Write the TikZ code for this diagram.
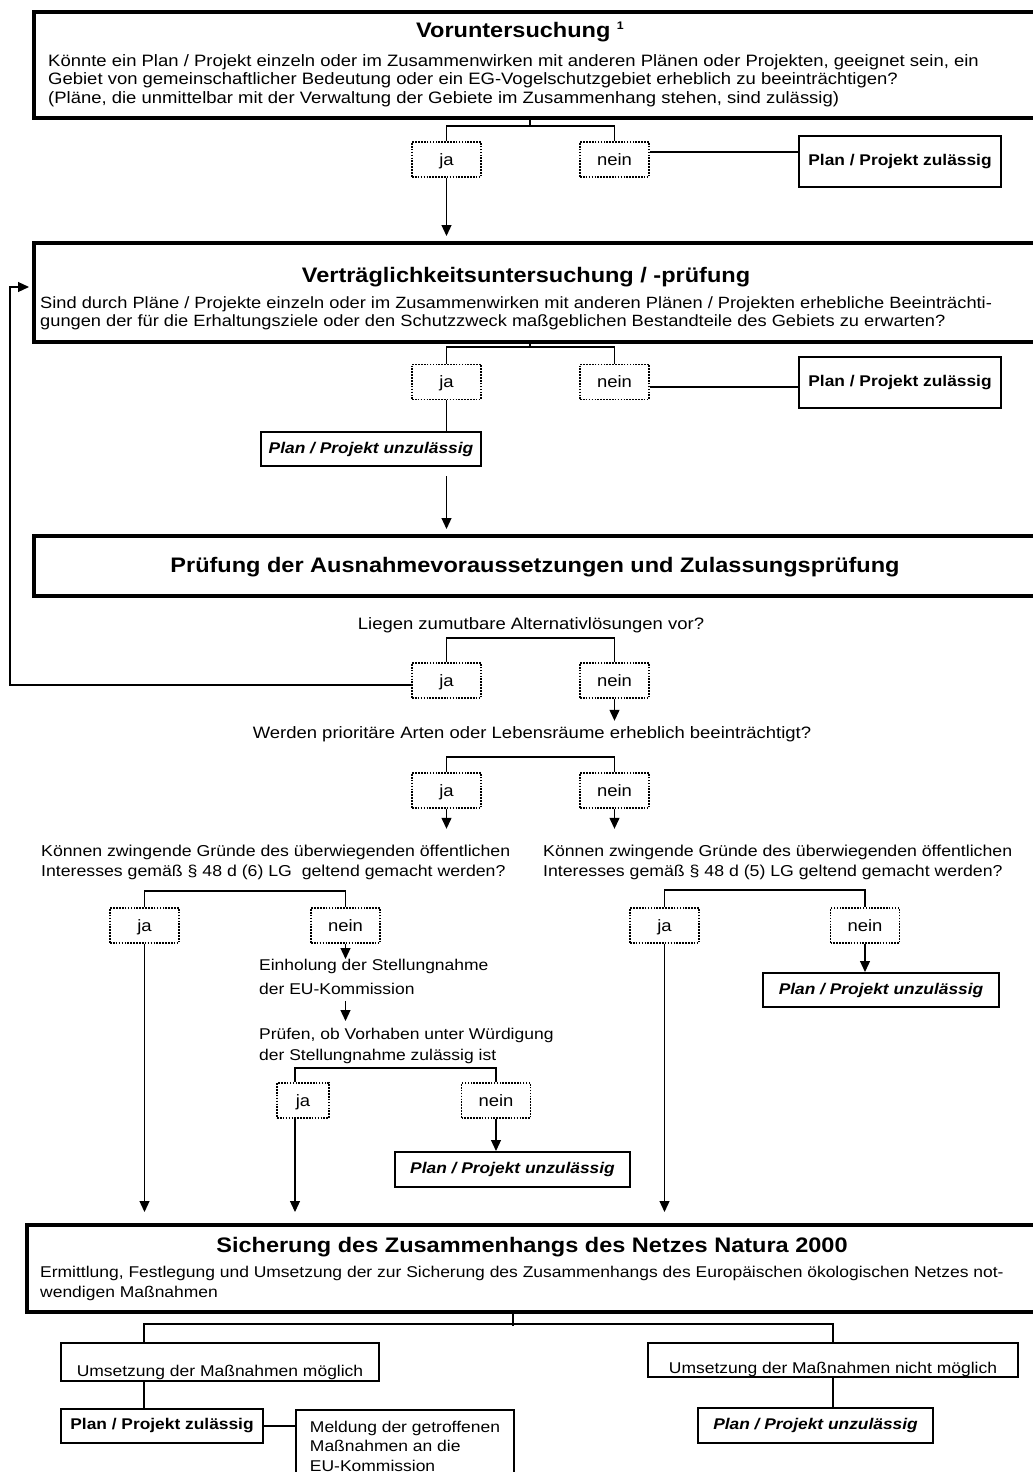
\documentclass[tikz,border=0pt]{standalone}
\usepackage{fontspec}
\setmainfont{Liberation Sans}[FakeStretch=1.12]
\usetikzlibrary{arrows.meta}
\newcommand\bodyf{\fontsize{16.5}{18.5}\selectfont}
\newcommand\smallf{\fontsize{15.6}{18.5}\selectfont}
\newcommand\ttlf{\fontsize{21}{24}\selectfont\bfseries}
\newcommand\resf{\fontsize{15.5}{18}\selectfont\bfseries}
\begin{document}
\begin{tikzpicture}[x=1pt,y=-1pt,
  conn/.style={line width=1.2pt},
  arr/.style={line width=1.2pt,-{Triangle[width=10pt,length=11pt]}},
  bigbox/.style={draw,line width=4pt,anchor=north west,inner sep=0pt,minimum width=1013pt},
  jn/.style={draw,line width=1.6pt,dash pattern=on 1.6pt off 1.3pt,minimum width=69pt,minimum height=35pt,inner sep=0pt,text height=14pt,text depth=3pt,font=\bodyf},
  res/.style={draw,line width=2pt,inner sep=0pt,font=\resf,minimum width=202pt},
  unz/.style={draw,line width=2pt,inner sep=0pt,font=\resf\itshape,minimum width=235pt,minimum height=35pt},
  body/.style={inner sep=0pt,align=left,anchor=north west,font=\bodyf},
  ques/.style={inner sep=0pt,anchor=base,font=\bodyf},
  ttl/.style={inner sep=0pt,anchor=base,font=\ttlf},
  umbox/.style={draw,line width=2pt,font=\smallf,inner sep=0pt}]
\path[use as bounding box,fill=white] (0,0) rectangle (1033,1472);
\clip (0,0) rectangle (1033,1472);

% big boxes
\node[bigbox,minimum height=106pt] (b1) at (32,10) {};
\node[bigbox,minimum height=99pt] (b2) at (32,241) {};
\node[bigbox,minimum height=60pt] (b3) at (32,534) {};
\node[bigbox,minimum height=87pt,minimum width=1020pt] (b4) at (25,1223) {};

% titles
\node[ttl] (t1) at (520,37.5) {Voruntersuchung \raisebox{8pt}{\fontsize{11}{11}\selectfont 1}};
\node[ttl] (t2) at (526,282) {Verträglichkeitsuntersuchung / -prüfung};
\node[ttl] (t3) at (535,572) {Prüfung der Ausnahmevoraussetzungen und Zulassungsprüfung};
\node[ttl] (t4) at (532,1252) {Sicherung des Zusammenhangs des Netzes Natura 2000};

% body texts
\node[body] (x1) at (48,54) {Könnte ein Plan / Projekt einzeln oder im Zusammenwirken mit anderen Plänen oder Projekten, geeignet sein, ein\\Gebiet von gemeinschaftlicher Bedeutung oder ein EG-Vogelschutzgebiet erheblich zu beeinträchtigen?\\(Pläne, die unmittelbar mit der Verwaltung der Gebiete im Zusammenhang stehen, sind zulässig)};
\node[body,font=\fontsize{16.3}{18.5}\selectfont] (x2) at (40,296) {Sind durch Pläne / Projekte einzeln oder im Zusammenwirken mit anderen Plänen / Projekten erhebliche Beeinträchti-\\gungen der für die Erhaltungsziele oder den Schutzzweck maßgeblichen Bestandteile des Gebiets zu erwarten?};
\node[body,font=\fontsize{15.6}{20}\selectfont] (x4) at (40,1266) {Ermittlung, Festlegung und Umsetzung der zur Sicherung des Zusammenhangs des Europäischen ökologischen Netzes not-\\wendigen Maßnahmen};

% questions
\node[ques] (q3) at (531,629) {Liegen zumutbare Alternativlösungen vor?};
\node[ques] (q4) at (532,738) {Werden prioritäre Arten oder Lebensräume erheblich beeinträchtigt?};
\node[body,font=\fontsize{15.8}{19.5}\selectfont] (q5) at (41,845) {Können zwingende Gründe des überwiegenden öffentlichen\\Interesses gemäß § 48 d (6) LG\ \ geltend gemacht werden?};
\node[body,font=\fontsize{15.8}{19.5}\selectfont] (q7) at (543,845) {Können zwingende Gründe des überwiegenden öffentlichen\\Interesses gemäß § 48 d (5) LG geltend gemacht werden?};
\node[body,font=\fontsize{15.6}{24}\selectfont] (e5) at (259,959) {Einholung der Stellungnahme\\der EU-Kommission};
\node[body,font=\fontsize{15.6}{21}\selectfont] (p5) at (259,1028) {Prüfen, ob Vorhaben unter Würdigung\\der Stellungnahme zulässig ist};

% ja / nein
\node[jn] (ja1) at (446.5,159.5) {ja};
\node[jn] (nein1) at (614.5,159.5) {nein};
\node[jn] (ja2) at (446.5,382) {ja};
\node[jn] (nein2) at (614.5,382) {nein};
\node[jn] (ja3) at (446.5,680.5) {ja};
\node[jn] (nein3) at (614.5,680.5) {nein};
\node[jn] (ja4) at (446.5,790.5) {ja};
\node[jn] (nein4) at (614.5,790.5) {nein};
\node[jn] (ja5) at (144.5,925.5) {ja};
\node[jn] (nein5) at (345.5,925.5) {nein};
\node[jn,minimum width=52pt] (ja6) at (303,1100.5) {ja};
\node[jn] (nein6) at (496,1100.5) {nein};
\node[jn] (ja7) at (664.5,925.5) {ja};
\node[jn] (nein7) at (865,925.5) {nein};

% result boxes
\node[res,minimum height=51pt] (pz1) at (900,161.5) {Plan / Projekt zulässig};
\node[res,minimum height=51pt] (pz2) at (900,382.5) {Plan / Projekt zulässig};
\node[unz,minimum width=220pt,minimum height=34pt] (uz2) at (371,449) {Plan / Projekt unzulässig};
\node[unz] (uz6) at (512.5,1169.5) {Plan / Projekt unzulässig};
\node[unz,minimum width=236pt,minimum height=34pt] (uz7) at (881,990) {Plan / Projekt unzulässig};
\node[unz] (uz8) at (815.5,1425.5) {Plan / Projekt unzulässig};
\node[res,minimum height=34pt] (pz8) at (162,1426) {Plan / Projekt zulässig};
\node[draw,line width=2pt,anchor=north west,align=left,minimum width=218pt,inner xsep=0pt,inner ysep=11pt,font=\fontsize{15.6}{19.5}\selectfont] (mel) at (295,1409) {Meldung der getroffenen\\Maßnahmen an die\\EU-Kommission\\[6pt]};
\node[umbox,minimum width=318pt,minimum height=38pt,text height=29pt,text depth=1pt] (um) at (220,1362) {Umsetzung der Maßnahmen möglich};
\node[umbox,minimum width=370pt,minimum height=34pt,text height=27pt,text depth=1pt] (umn) at (833,1360) {Umsetzung der Maßnahmen nicht möglich};

% branch 1
\coordinate (tk1) at (530,119);
\coordinate (h1) at (530,126);
\draw[conn] (tk1) -- (h1);
\draw[conn] (ja1.north) |- (h1) -| (nein1.north);
\draw[arr,shorten >=5pt] (ja1.south) -- (ja1.south |- b2.north);
\draw[conn] ([yshift=7.5pt]nein1.east) -- ([yshift=7.5pt]nein1.east -| pz1.west);

% branch 2
\coordinate (tk2) at (530,341);
\coordinate (h2) at (530,347);
\draw[conn] (tk2) -- (h2);
\draw[conn] (ja2.north) |- (h2) -| (nein2.north);
\draw[conn] ([yshift=-5pt]nein2.east) -- ([yshift=-5pt]nein2.east -| pz2.west);
\draw[conn] (ja2.south) -- (ja2.south |- uz2.north);
\draw[arr,shorten <=9pt,shorten >=5pt] (ja2.south |- uz2.south) -- (ja2.south |- b3.north);

% branch 3
\coordinate (h3) at (530,638);
\draw[conn] (ja3.north) |- (h3) -| (nein3.north);
\coordinate (fb) at (10,685);
\draw[arr,shorten >=3pt] ([yshift=-4.5pt]ja3.west) -- (fb) |- ([yshift=5.5pt]b2.west);
\draw[arr] (nein3.south) -- ++(0,22);

% branch 4
\coordinate (h4) at (530,757);
\draw[conn] (ja4.north) |- (h4) -| (nein4.north);
\draw[arr] (ja4.south) -- ++(0,20);
\draw[arr] (nein4.south) -- ++(0,20);

% branch 5
\coordinate (h5) at (245,891);
\draw[conn] (ja5.north) |- (h5) -| (nein5.north);
\draw[arr,shorten >=11pt] (ja5.south) -- (ja5.south |- b4.north);
\draw[arr] (nein5.south) -- (nein5.south |- e5.north);
\draw[arr,shorten <=6pt,shorten >=7pt] (nein5.south |- e5.south) -- (nein5.south |- p5.north);

% branch 6
\coordinate (h6) at (295,1068);
\draw[conn] (ja6.north -| h6) -- (h6) -| (nein6.north);
\draw[arr,shorten >=11pt] (ja6.south -| h6) -- (h6 |- b4.north);
\draw[arr] (nein6.south) -- (nein6.south |- uz6.north);

% branch 7
\coordinate (h7) at (765,890);
\draw[conn] (ja7.north) |- (h7) -| (nein7.north);
\draw[arr,shorten >=11pt] (ja7.south) -- (ja7.south |- b4.north);
\draw[arr] (nein7.south) -- (nein7.south |- uz7.north);

% below box 4
\coordinate (tk8) at (513,1311);
\coordinate (l8) at (144,1324);
\draw[conn] (tk8) -- ++(0,15);
\draw[conn] (l8 |- um.north) -- (l8) -- (umn.north |- l8) -- (umn.north);
\draw[conn] (l8 |- um.south) -- (l8 |- pz8.north);
\draw[conn] (pz8.east) -- (pz8.east -| mel.west);
\draw[conn] (umn.south) -- (umn.south |- uz8.north);
\end{tikzpicture}
\end{document}
